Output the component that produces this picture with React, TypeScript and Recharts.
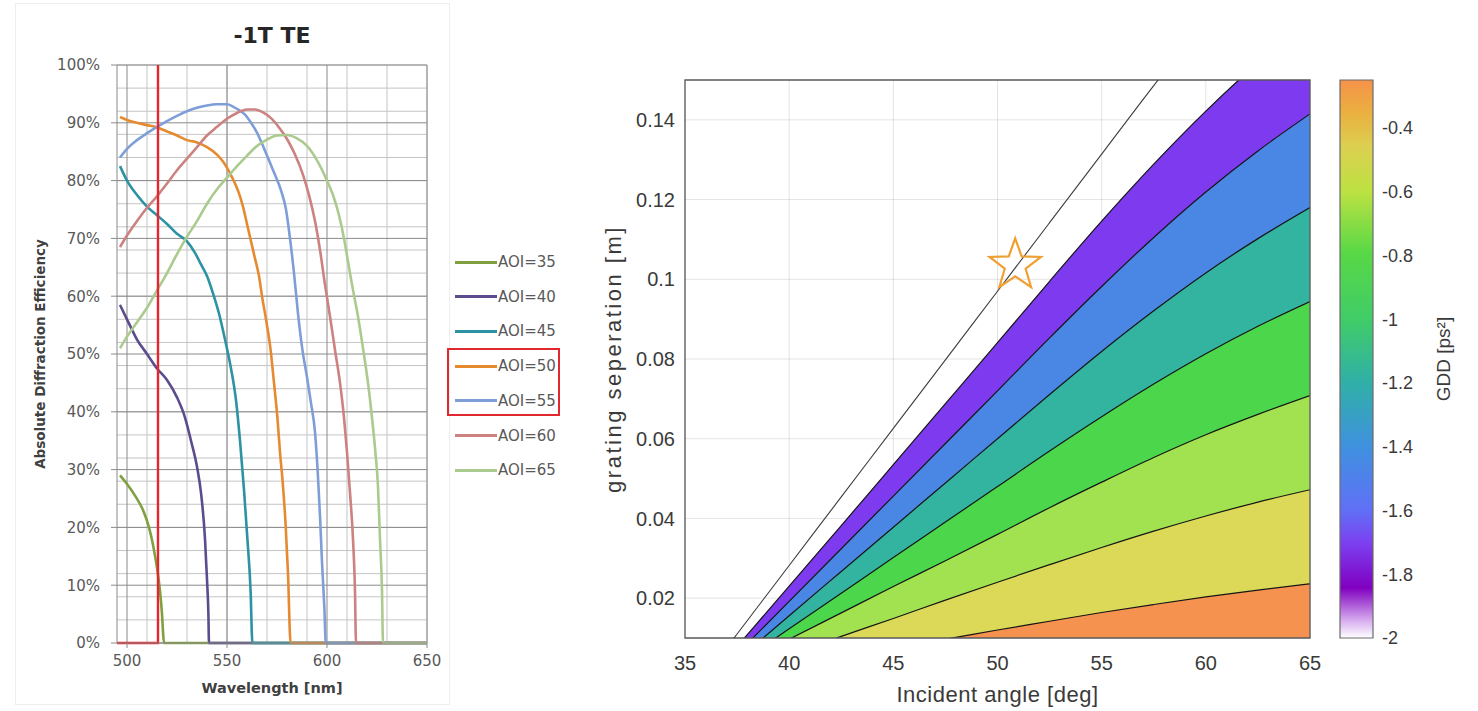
import React from "react";
import {
  LineChart,
  Line,
  XAxis,
  YAxis,
  CartesianGrid,
  Legend,
  ComposedChart,
  Area,
  ReferenceArea,
  ReferenceDot,
  BarChart,
  Bar,
} from "recharts";

// ---------- left panel: -1T TE efficiency vs wavelength ----------
const aoiNames = ["AOI=35", "AOI=40", "AOI=45", "AOI=50", "AOI=55", "AOI=60", "AOI=65"];
const aoiColors = ["#80a040", "#5c4c8e", "#2c92a4", "#e68a30", "#7e9ed8", "#cc8280", "#abcb8e"];

// [wavelength nm, efficiency %]
const aoi35 = [[496.5, 29], [500, 27.5], [504, 25.5], [508, 23], [511, 20], [513, 17], [515, 13], [516.5, 9], [517.5, 5], [518, 2], [518.5, 0], [650, 0]];
const aoi40 = [[496.5, 58.5], [500, 56], [505, 52.5], [510, 50], [515, 47.5], [520, 45.5], [525, 42.5], [529, 39], [532, 35], [535, 30.5], [537, 26], [539, 18], [540, 11], [540.7, 5], [541, 0], [650, 0]];
const aoi45 = [[496.5, 82.5], [500, 80], [505, 77.5], [510, 75.5], [515, 74], [520, 72.5], [525, 70.8], [530, 69.5], [534, 67.5], [537, 65.5], [540, 63.5], [543, 60.5], [546, 57], [549, 52.5], [552, 47.5], [554.5, 42], [556.5, 35], [558.5, 26.5], [560.2, 18], [561.8, 9], [562.7, 0], [650, 0]];
const aoi50 = [[496.5, 91], [500, 90.5], [505, 90], [510, 89.6], [515, 89.2], [520, 88.5], [525, 87.8], [530, 87], [535, 86.6], [540, 85.8], [545, 84.5], [548, 83.3], [551, 81.6], [554, 79.5], [556, 77.8], [558, 75.5], [560, 72.5], [562, 69.5], [564, 66.5], [566, 63.5], [567.5, 60], [569.5, 56], [571.8, 50.7], [573.5, 45], [575.2, 39], [576.5, 33], [577.8, 28], [579.3, 20.5], [580.5, 12], [581.8, 0], [650, 0]];
const aoi55 = [[496.5, 84], [500, 85.5], [505, 87], [510, 88.2], [515, 89.3], [520, 90.3], [525, 91.2], [530, 92], [535, 92.6], [540, 93], [545, 93.2], [550, 93.2], [553, 92.8], [556, 92.2], [559, 91.4], [562, 90], [565, 88.3], [568, 86], [571, 83.5], [574, 81], [577, 78.3], [579.5, 75], [581.5, 70], [583.5, 64], [585.5, 57], [587.8, 50.5], [590, 46], [592, 41.5], [594, 36.5], [595.3, 30], [596.5, 22], [597.5, 14], [598.7, 6], [599.4, 0], [650, 0]];
const aoi60 = [[496.5, 68.5], [500, 70.5], [505, 73], [510, 75.3], [515, 77.3], [520, 79.5], [525, 81.8], [530, 83.8], [535, 85.8], [540, 87.8], [545, 89.3], [550, 90.7], [555, 91.7], [560, 92.3], [564, 92.3], [568, 91.8], [572, 90.8], [576, 89.2], [580, 87.2], [584, 84.5], [588, 81], [591, 77.5], [594, 73], [596.5, 68], [599, 62], [601.5, 56.5], [604, 50.7], [606.5, 45], [608.5, 39], [610, 33], [611.5, 26], [613, 18], [614, 9], [614.5, 0], [650, 0]];
const aoi65 = [[496.5, 51], [500, 53], [505, 55.5], [510, 58], [515, 61], [520, 64], [525, 67.3], [530, 70.3], [535, 73], [540, 76], [545, 78.5], [550, 80.5], [555, 82.5], [560, 84.3], [565, 86], [570, 87.1], [575, 87.8], [580, 87.9], [585, 87.3], [590, 86], [595, 83.5], [600, 80], [603, 77.5], [606, 74], [608.5, 70], [610.5, 66], [612.5, 62], [615.5, 56.5], [618, 51], [620.5, 45], [622.5, 39], [624.2, 33], [625.5, 27], [626.5, 18], [627.5, 9], [628, 0], [650, 0]];
const cutoffLine = [[495, 0], [515.5, 0], [515.5, 100]];

const wavelengthTicks = [500, 550, 600, 650];
const wavelengthMinor = [500, 510, 520, 530, 540, 550, 560, 570, 580, 590, 600, 610, 620, 630, 640, 650];
const efficiencyTicks = [0, 10, 20, 30, 40, 50, 60, 70, 80, 90, 100];
const efficiencyMinor = Array.from({ length: 51 }, (_, i) => i * 2);

// ---------- right panel: GDD contours ----------
const angles = [35, 37.5, 40, 42.5, 45, 47.5, 50, 52.5, 55, 57.5, 60, 62.5, 65];
// grating separation [m] along each contour line
// (values below 0.01 run past the bottom of the axes and are clipped)
const sepM025 = [-0.0017, 0.0006, 0.0029, 0.0052, 0.0075, 0.0097, 0.012, 0.0142, 0.0164, 0.0184, 0.0203, 0.022, 0.0236];
const sepM050 = [-0.0032, 0.0013, 0.0058, 0.0104, 0.0149, 0.0195, 0.024, 0.0284, 0.0327, 0.0368, 0.0406, 0.0441, 0.0472];
const sepM075 = [-0.0034, 0.0032, 0.0097, 0.0163, 0.0229, 0.0294, 0.036, 0.0427, 0.0491, 0.0553, 0.061, 0.0661, 0.0708];
const sepM100 = [-0.0055, 0.0034, 0.0123, 0.0212, 0.0302, 0.0391, 0.048, 0.0569, 0.0655, 0.0737, 0.0813, 0.0882, 0.0944];
const sepM125 = [-0.0067, 0.0044, 0.0156, 0.0267, 0.0378, 0.0489, 0.06, 0.0711, 0.0819, 0.0921, 0.1016, 0.1102, 0.118];
const sepM150 = [-0.0072, 0.006, 0.0192, 0.0324, 0.0456, 0.0588, 0.072, 0.0853, 0.0982, 0.1105, 0.1219, 0.1322, 0.1415];
const sepM175 = [-0.0072, 0.0079, 0.023, 0.0382, 0.0535, 0.0688, 0.0841, 0.0995, 0.1146, 0.1289, 0.1422, 0.1543, 0.1651];
const sepM200 = [-0.0062, 0.011, 0.0282, 0.0454, 0.0626, 0.0798, 0.097, 0.1142, 0.1314, 0.1486, 0.165, 0.179, 0.191];

const angleTicks = [35, 40, 45, 50, 55, 60, 65];
const sepTicks = [0.02, 0.04, 0.06, 0.08, 0.1, 0.12, 0.14];
const gddTicks = [-2, -1.8, -1.6, -1.4, -1.2, -1, -0.8, -0.6, -0.4];
const gddRange = [-2, -0.25];
const starPoint = { angle: 50.85, sep: 0.1035 };

const contourRows = angles.map((a, i) => ({
  angle: a,
  m025: sepM025[i],
  m050: sepM050[i],
  m075: sepM075[i],
  m100: sepM100[i],
  m125: sepM125[i],
  m150: sepM150[i],
  m175: sepM175[i],
  m200: sepM200[i],
}));

// filled from the outermost contour inwards
const bands = [
  { key: "m175", color: "#7e3aee" },
  { key: "m150", color: "#4a86e4" },
  { key: "m125", color: "#32b4a0" },
  { key: "m100", color: "#4cd64c" },
  { key: "m075", color: "#a2e250" },
  { key: "m050", color: "#dcd858" },
  { key: "m025", color: "#f69250" },
];

const gddStops = [
  { o: 0, c: "#f6924a" },
  { o: 0.06, c: "#eab040" },
  { o: 0.12, c: "#dcd050" },
  { o: 0.2, c: "#bce242" },
  { o: 0.31, c: "#58d846" },
  { o: 0.43, c: "#40cc68" },
  { o: 0.54, c: "#30b0a6" },
  { o: 0.66, c: "#4090e0" },
  { o: 0.77, c: "#6070f6" },
  { o: 0.83, c: "#7c40f0" },
  { o: 0.91, c: "#8000c0" },
  { o: 0.97, c: "#d8b0f0" },
  { o: 1, c: "#ffffff" },
];

const toPoints = (rows: number[][]) => rows.map(([x, y]) => ({ x, y }));
const aoiSeries = [aoi35, aoi40, aoi45, aoi50, aoi55, aoi60, aoi65].map(toPoints);

const excelFont = "DejaVu Sans";
const matlabFont = "Liberation Sans";

const renderAoiLegend = (props: any) => {
  const items = (props.payload || []).filter((p: any) => p.type !== "none");
  return (
    <div style={{ position: "relative", width: 125, height: 240, fontFamily: excelFont, fontSize: 15, color: "#595959" }}>
      {items.map((p: any, i: number) => (
        <div key={p.value} style={{ position: "absolute", left: 10, top: 8 + i * 34.7, height: 18, display: "flex", alignItems: "center" }}>
          <span style={{ display: "inline-block", width: 42, borderTop: `3px solid ${p.color}` }} />
          <span style={{ marginLeft: 1 }}>{p.value}</span>
        </div>
      ))}
      <div style={{ position: "absolute", left: 2, top: 103, width: 113, height: 68, boxSizing: "border-box", border: "2px solid #e0282e" }} />
    </div>
  );
};

const StarMark = (props: any) => {
  const { cx, cy } = props;
  const pts: string[] = [];
  for (let k = 0; k < 10; k++) {
    const r = k % 2 === 0 ? 27 : 11;
    const a = -Math.PI / 2 + (k * Math.PI) / 5;
    pts.push(`${cx + r * Math.cos(a)},${cy + r * Math.sin(a)}`);
  }
  return <polygon points={pts.join(" ")} fill="none" stroke="#f0a032" strokeWidth={2.2} strokeLinejoin="miter" />;
};

const fmtSep = (v: number) => String(Number(v.toFixed(2)));
const fmtGdd = (v: number) => String(Number(v.toFixed(1)));

export default function App() {
  return (
    <div style={{ position: "relative", width: 1478, height: 711, background: "#fff", overflow: "hidden" }}>
      <style>{"body{margin:0;background:#fff}"}</style>
      <div style={{ position: "absolute", left: 15, top: 3, width: 433, height: 700, border: "1px solid #eeeeee" }} />
      <div
        style={{
          position: "absolute",
          left: 117,
          width: 310,
          top: 23,
          textAlign: "center",
          fontFamily: excelFont,
          fontWeight: "bold",
          fontSize: 22,
          color: "#262626",
        }}
      >
        -1T TE
      </div>

      <div style={{ position: "absolute", left: 0, top: 0 }}>
        <LineChart width={580} height={711} margin={{ top: 65, right: 153, bottom: 0, left: 0 }}>
          <CartesianGrid verticalValues={wavelengthMinor} horizontalValues={efficiencyMinor} stroke="#c4c4c4" strokeWidth={1} />
          <CartesianGrid verticalValues={wavelengthTicks} horizontalValues={efficiencyTicks} stroke="#8a8a8a" strokeWidth={1} />
          <XAxis
            dataKey="x"
            type="number"
            domain={[495, 650]}
            ticks={wavelengthTicks}
            height={68}
            tickSize={5}
            tickMargin={7}
            stroke="#8a8a8a"
            tick={{ fontSize: 15, fill: "#595959", fontFamily: excelFont }}
            label={{ value: "Wavelength [nm]", position: "center", dy: 11, fill: "#404040", fontSize: 14.5, fontWeight: "bold", fontFamily: excelFont }}
          />
          <YAxis
            type="number"
            domain={[0, 100]}
            ticks={efficiencyTicks}
            width={117}
            tickSize={6}
            tickMargin={11}
            stroke="#8a8a8a"
            tickFormatter={(v: number) => `${v}%`}
            tick={{ fontSize: 15, fill: "#595959", fontFamily: excelFont }}
            label={{ value: "Absolute Diffraction  Efficiency", angle: -90, position: "center", dx: -18, fill: "#404040", fontSize: 13.5, fontWeight: "bold", fontFamily: excelFont }}
          />
          {aoiSeries.map((s, i) => (
            <Line
              key={aoiNames[i]}
              data={s}
              dataKey="y"
              name={aoiNames[i]}
              type="monotone"
              stroke={aoiColors[i]}
              strokeWidth={2.6}
              dot={false}
              activeDot={false}
              isAnimationActive={false}
            />
          ))}
          <Line
            data={toPoints(cutoffLine)}
            dataKey="y"
            name="cutoff"
            type="linear"
            stroke="#e6262e"
            strokeWidth={2.4}
            dot={false}
            activeDot={false}
            legendType="none"
            isAnimationActive={false}
          />
          <Legend
            layout="vertical"
            align="center"
            verticalAlign="middle"
            wrapperStyle={{ left: 445, top: 245, width: 125, height: 240 }}
            content={renderAoiLegend}
          />
        </LineChart>
      </div>

      <div style={{ position: "absolute", left: 560, top: 0 }}>
        <ComposedChart width={780} height={711} data={contourRows} margin={{ top: 80, right: 30, bottom: 0, left: 0 }}>
          <XAxis
            dataKey="angle"
            type="number"
            domain={[35, 65]}
            ticks={angleTicks}
            allowDataOverflow
            height={73}
            tickSize={0}
            tickMargin={18}
            axisLine={false}
            tick={{ fontSize: 20, fill: "#3a3a3a", fontFamily: matlabFont }}
            label={{ value: "Incident angle [deg]", position: "center", dy: 20, fill: "#3a3a3a", fontSize: 22, letterSpacing: 0.5, fontFamily: matlabFont }}
          />
          <YAxis
            type="number"
            domain={[0.01, 0.15]}
            ticks={sepTicks}
            allowDataOverflow
            width={125}
            tickSize={0}
            tickMargin={10}
            axisLine={false}
            tickFormatter={fmtSep}
            tick={{ fontSize: 20, fill: "#3a3a3a", fontFamily: matlabFont }}
            label={{ value: "grating seperation [m]", angle: -90, position: "center", dx: -9, fill: "#3a3a3a", fontSize: 22, letterSpacing: 2.5, fontFamily: matlabFont }}
          />
          {bands.map((b) => (
            <Area
              key={b.key}
              dataKey={b.key}
              type="monotone"
              baseValue="dataMin"
              fill={b.color}
              fillOpacity={1}
              stroke="#161616"
              strokeWidth={1.2}
              dot={false}
              activeDot={false}
              isAnimationActive={false}
            />
          ))}
          <Line dataKey="m200" type="monotone" stroke="#3c3c3c" strokeWidth={1.1} dot={false} activeDot={false} isAnimationActive={false} />
          <CartesianGrid verticalValues={angleTicks} horizontalValues={sepTicks} stroke="rgba(0,0,0,0.11)" />
          <ReferenceArea x1={35} x2={65} y1={0.01} y2={0.15} fill="none" stroke="#5a5a5a" strokeWidth={1.3} />
          <ReferenceDot x={starPoint.angle} y={starPoint.sep} r={27} shape={StarMark} />
        </ComposedChart>
      </div>

      <div style={{ position: "absolute", left: 1330, top: 0 }}>
        <BarChart width={148} height={711} data={[{ name: "GDD", span: gddRange }]} margin={{ top: 80, right: 0, bottom: 73, left: 10 }} barCategoryGap={0}>
          <defs>
            <linearGradient id="gddScale" x1="0" y1="0" x2="0" y2="1">
              {gddStops.map((s) => (
                <stop key={s.o} offset={s.o} stopColor={s.c} />
              ))}
            </linearGradient>
          </defs>
          <XAxis dataKey="name" hide />
          <YAxis
            orientation="right"
            type="number"
            domain={[-2, -0.25]}
            ticks={gddTicks}
            width={105}
            tickSize={0}
            tickMargin={9}
            axisLine={false}
            tickFormatter={fmtGdd}
            tick={{ fontSize: 18, fill: "#3a3a3a", fontFamily: matlabFont }}
            label={{ value: "GDD [ps²]", angle: -90, position: "center", dx: 18, fill: "#3a3a3a", fontSize: 19, fontFamily: matlabFont }}
          />
          <Bar dataKey="span" fill="url(#gddScale)" stroke="#6b6b6b" strokeWidth={1.2} isAnimationActive={false} />
        </BarChart>
      </div>
    </div>
  );
}
